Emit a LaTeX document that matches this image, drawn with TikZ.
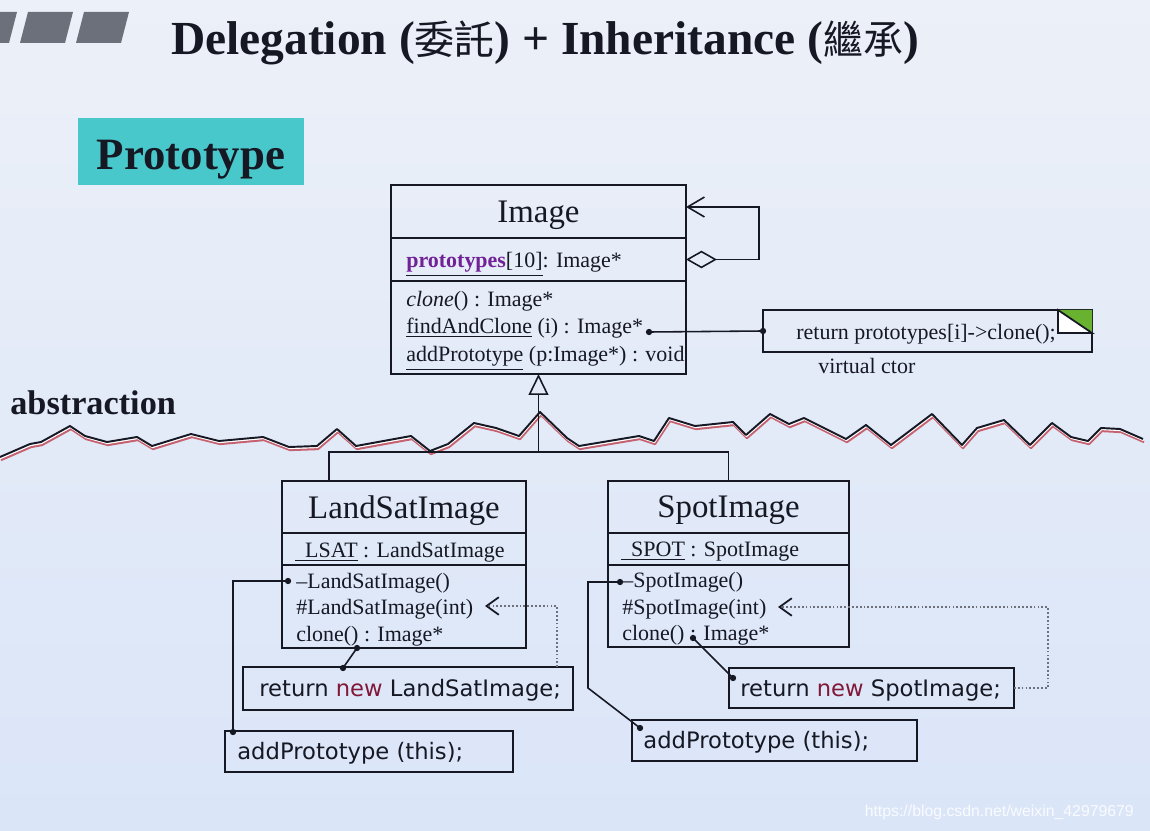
\documentclass[tikz,border=0pt]{standalone}
\usepackage{fontspec}
\setmainfont{Liberation Serif}
\newfontfamily\cjk[Scale=0.84]{Noto Sans CJK TC}
\newfontfamily\codefont{DejaVu Sans}
\newfontfamily\webfont{Liberation Sans}
\usepackage{tikz}
\usetikzlibrary{
    arrows.meta,
    positioning,
    calc
}
\definecolor{slidetop}{RGB}{236,240,248}
\definecolor{slidebot}{RGB}{218,229,248}
\definecolor{bargray}{RGB}{108,112,122}
\definecolor{prototeal}{RGB}{72,200,202}
\definecolor{inkdark}{RGB}{22,24,36}
\definecolor{protopurple}{RGB}{112,34,150}
\definecolor{codered}{RGB}{130,24,56}
\definecolor{wavered}{RGB}{198,98,112}
\definecolor{foldgreen}{RGB}{104,178,48}
\definecolor{dotgray}{RGB}{110,112,124}

\begin{document}
\begin{tikzpicture}[x=0.02cm, y=-0.02cm,
  compart/.style={draw=inkdark, line width=1pt, anchor=north west, inner sep=0pt, outer sep=0pt},
  boxdim/.style 2 args={minimum width={#1*\pxu}, minimum height={#2*\pxu}},
  cname/.style={compart, font=\fontsize{18.7}{22}\selectfont, text=inkdark, text depth=0pt},
  members/.style={font=\fontsize{12.5}{15.9}\selectfont, align=left, anchor=west, inner sep=0pt, text=inkdark, yshift=-3*\pxu},
  codetext/.style={font=\codefont\fontsize{12.9}{15}\selectfont, anchor=west, inner sep=0pt, text=inkdark, yshift=-2*\pxu},
  link/.style={draw=inkdark, line width=0.9pt},
  dottedlink/.style={draw=dotgray, line width=0.7pt, dash pattern=on 1pt off 1.2pt},
  barb/.style={-{Straight Barb[length=7pt,width=10pt,line width=1pt,color=inkdark]}}]
  \def\pxu{0.02cm}
  \useasboundingbox (0,0) rectangle (1150,831);
  \shade[top color=slidetop, bottom color=slidebot] (0,0) rectangle (1150,831);

  % header
  \foreach \l in {-36,20,76}
     {\fill[bargray] (\l,43) -- (\l+8,12) -- (\l+53,12) -- (\l+45,43) -- cycle;}
  \node[font=\bfseries\fontsize{27}{30}\selectfont, text=inkdark, anchor=base, inner sep=0pt] (title) at (545,55)
     {Delegation ({\cjk\mdseries 委託}) + Inheritance ({\cjk\mdseries 繼承})};
  \fill[prototeal] (78,118) rectangle (304,185);
  \node[font=\bfseries\fontsize{25.5}{28}\selectfont, text=inkdark, anchor=base] (proto) at (191,170) {Prototype};

  % abstraction line
  \node[font=\bfseries\fontsize{19.5}{22}\selectfont, text=inkdark, anchor=base west, inner sep=0pt] (abs) at (10,415) {abstraction};
  \def\wavepath{(0,457) -- (30,444) -- (41,442) -- (70,426) -- (85,436) -- (107,442) -- (137,437)
     -- (152,446) -- (191,434) -- (219,441) -- (263,437) -- (289,447) -- (317,446) -- (337,429)
     -- (356,446) -- (411,436) -- (430,451) -- (448,444) -- (474,423) -- (496,428) -- (519,436)
     -- (540,412) -- (567,438) -- (579,446) -- (639,436) -- (654,441) -- (669,418) -- (695,426)
     -- (733,422) -- (746,435) -- (770,414) -- (789,424) -- (804,418) -- (846,439) -- (866,425)
     -- (891,445) -- (932,414) -- (962,445) -- (977,428) -- (1004,420) -- (1030,445) -- (1052,423)
     -- (1071,437) -- (1088,441) -- (1101,428) -- (1120,429) -- (1143,439)}
  \foreach \c/\dx/\dy/\w in {wavered/1/3/1.3pt, white/0.5/1.5/0.7pt, inkdark/0/0/1.1pt}
     {\draw[\c, line width=\w, line join=round, shift={(\dx,\dy)}] \wavepath;}

  % Image
  \node[cname, boxdim={295}{53}] (imgN) at (391,185) {Image};
  \node[compart, boxdim={295}{43}] (imgA) at (391,238) {};
  \node[compart, boxdim={295}{93}] (imgO) at (391,281) {};
  \node[members, yshift=-2*\pxu] (imgAT) at ([xshift=15*\pxu]imgA.west)
     {\underline{\textcolor{protopurple}{\textbf{prototypes}}[10]}: Image*};
  \node[members] (imgOT) at ([xshift=15*\pxu]imgO.west)
     {\textit{clone}() : Image*\\ \underline{findAndClone} (i) : Image*\\ \underline{addPrototype} (p:Image*) : void};
  \coordinate (selfR) at (759,207);
  \draw[link, {Diamond[open,length=17.6pt,width=10pt]}-{Straight Barb[length=9.6pt,width=11.3pt]}]
     (imgA.east) -| (selfR) -- (selfR -| imgN.east);

  % note
  \node[compart, boxdim={329}{42}] (note) at (763,310) {};
  \node[members] (noteT) at ([xshift=33*\pxu]note.west) {return prototypes[i]->clone();};
  \coordinate (fA) at ([xshift=-34*\pxu]note.north east);
  \coordinate (fB) at ([yshift=-23*\pxu]note.north east);
  \fill[white] (fA) |- (fB) -- cycle;
  \fill[foldgreen] (fA) -- (note.north east) -- (fB) -- cycle;
  \draw[inkdark, line width=1pt] (fA) |- (fB) -- cycle;
  \node[members, anchor=base west] (ctor) at (818,371) {virtual ctor};
  \coordinate (fac) at (649,332);
  \draw[link] (fac) -- (note.west);

  % LandSatImage
  \node[cname, boxdim={244}{52}] (lsN) at (282,481) {LandSatImage};
  \node[compart, boxdim={244}{32}] (lsA) at (282,533) {};
  \node[compart, boxdim={244}{83}] (lsO) at (282,565) {};
  \node[members] (lsAT) at ([xshift=13*\pxu]lsA.west) {\underline{\hspace{0.45em}LSAT} : LandSatImage};
  \node[members, font=\fontsize{12.5}{15.1}\selectfont] (lsOT) at ([xshift=14*\pxu]lsO.west)
     {–LandSatImage()\\ \#LandSatImage(int)\\ clone() : Image*};

  % SpotImage
  \node[cname, boxdim={241}{52}] (spN) at (608,481) {SpotImage};
  \node[compart, boxdim={241}{32}] (spA) at (608,533) {};
  \node[compart, boxdim={241}{82}] (spO) at (608,565) {};
  \node[members] (spAT) at ([xshift=13*\pxu]spA.west) {\underline{\hspace{0.45em}SPOT} : SpotImage};
  \node[members, font=\fontsize{12.5}{15.1}\selectfont] (spOT) at ([xshift=14*\pxu]spO.west)
     {–SpotImage()\\ \#SpotImage(int)\\ clone() : Image*};

  % inheritance
  \coordinate (barY) at (0,452);
  \coordinate (junc) at (imgO.south |- barY);
  \coordinate (lsTop) at ([xshift=47*\pxu]lsN.north west);
  \draw[link, -{Triangle[open,length=11.9pt,width=11.3pt]}] (junc) -- (imgO.south);
  \draw[link] (lsTop) |- (junc) -| (spN.north);

  % code boxes
  \node[compart, boxdim={330}{43}] (lsRet) at (243,667) {};
  \node[codetext] (lsRetT) at ([xshift=16*\pxu]lsRet.west) {return \textcolor{codered}{new} LandSatImage;};
  \node[compart, boxdim={288}{41}] (lsAdd) at (225,731) {};
  \node[codetext] (lsAddT) at ([xshift=12*\pxu]lsAdd.west) {addPrototype (this);};
  \node[compart, boxdim={285}{40}] (spRet) at (729,668) {};
  \node[codetext] (spRetT) at ([xshift=11*\pxu]spRet.west) {return \textcolor{codered}{new} SpotImage;};
  \node[compart, boxdim={285}{41}] (spAdd) at (632,720) {};
  \node[codetext] (spAddT) at ([xshift=11*\pxu]spAdd.west) {addPrototype (this);};

  % method links
  \coordinate (lsCtor) at (288,581);
  \coordinate (lsAddIn) at (233,732);
  \coordinate (lsClone) at (357,648);
  \coordinate (lsRetIn) at (343,668);
  \coordinate (lsPro) at (485,606);
  \coordinate (spCtor) at (620,582);
  \coordinate (spBend) at (588,688);
  \coordinate (spAddIn) at (640,728);
  \coordinate (spClone) at (693,638);
  \coordinate (spRetIn) at (733,678);
  \coordinate (spPro) at (778,607);
  \draw[link] (lsCtor) -| (lsAddIn);
  \draw[link] (lsClone) -- (lsRetIn);
  \draw[link] (spCtor) -| (spBend) -- (spAddIn);
  \draw[link] (spClone) -- (spRetIn);
  \draw[dottedlink, barb] ([xshift=-16*\pxu]lsRet.north east) |- (lsPro);
  \draw[dottedlink, barb] (spRet.east) -- ++(34,0) |- (spPro);
  \foreach \p in {fac,note.west,lsCtor,lsAddIn,lsClone,lsRetIn,spCtor,spAddIn,spClone,spRetIn}
     {\fill[inkdark] (\p) circle[radius=1.8pt];}

  \node[font=\webfont\fontsize{9}{10}\selectfont, text=white, opacity=0.85, anchor=east] (mark)
     at (1140,812) {https://blog.csdn.net/weixin\_42979679};
\end{tikzpicture}
\end{document}
